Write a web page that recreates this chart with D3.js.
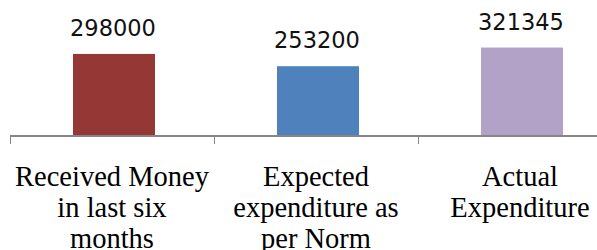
<!DOCTYPE html>
<html><head><meta charset="utf-8">
<script src="https://cdn.jsdelivr.net/npm/d3@7"></script>
<style>html,body{margin:0;padding:0;background:#fff;}svg{display:block;}</style>
</head><body>
<svg id="c" width="597" height="250"></svg>
<script>
const categories = ["Received Money in last six months", "Expected expenditure as per Norm", "Actual Expenditure"];
const categoryLines = [["Received Money", "in last six", "months"], ["Expected", "expenditure as", "per Norm"], ["Actual", "Expenditure"]];
const values = [298000, 253200, 321345];
const colors = ["#953735", "#4f81bd", "#b3a2c7"];

const svg = d3.select("#c");
const baseY = 135.5;
const x = d3.scaleBand().domain(categories).range([11, 623]).paddingInner(0).paddingOuter(0);
const y = d3.scaleLinear().domain([0, 350000]).range([baseY, 39.7]);
const barW = 82;

svg.selectAll("rect.bar").data(values).join("rect")
  .attr("class", "bar")
  .attr("x", (d, i) => x(categories[i]) + x.bandwidth() / 2 - barW / 2 + 1)
  .attr("width", barW)
  .attr("y", d => y(d))
  .attr("height", d => baseY - y(d))
  .attr("fill", (d, i) => colors[i]);

svg.selectAll("text.val").data(values).join("text")
  .attr("class", "val")
  .attr("x", (d, i) => x(categories[i]) + x.bandwidth() / 2)
  .attr("y", d => y(d) - 18)
  .attr("text-anchor", "middle")
  .attr("font-family", "DejaVu Sans")
  .attr("font-size", 22.5)
  .attr("fill", "#111")
  .text(d => d);

// axis
const axis = d3.axisBottom(x).tickSize(0).tickFormat("");
const g = svg.append("g").attr("transform", `translate(0,${baseY + 0.5})`).call(axis);
g.select(".domain").attr("stroke", "#868686").attr("stroke-width", 2).attr("d", `M${x.range()[0] - 1},0H${x.range()[1]}`);
g.selectAll(".tick").remove();
const bounds = categories.map(c => x(c)).concat([x.range()[1]]);
g.selectAll("line.tk").data(bounds).join("line")
  .attr("class", "tk")
  .attr("x1", d => d - 0.5).attr("x2", d => d - 0.5)
  .attr("y1", 0).attr("y2", 8)
  .attr("stroke", "#868686").attr("stroke-width", 1);

// category labels
const lab = svg.selectAll("text.cat").data(categoryLines).join("text")
  .attr("class", "cat")
  .attr("text-anchor", "middle")
  .attr("font-family", "Liberation Serif")
  .attr("font-size", 28.5)
  .attr("fill", "#000");
lab.each(function(lines, i) {
  const cx = x(categories[i]) + x.bandwidth() / 2 - 1;
  d3.select(this).selectAll("tspan").data(lines).join("tspan")
    .attr("x", cx)
    .attr("y", (d, j) => 185.5 + j * 31)
    .text(d => d);
});
</script>
</body></html>
